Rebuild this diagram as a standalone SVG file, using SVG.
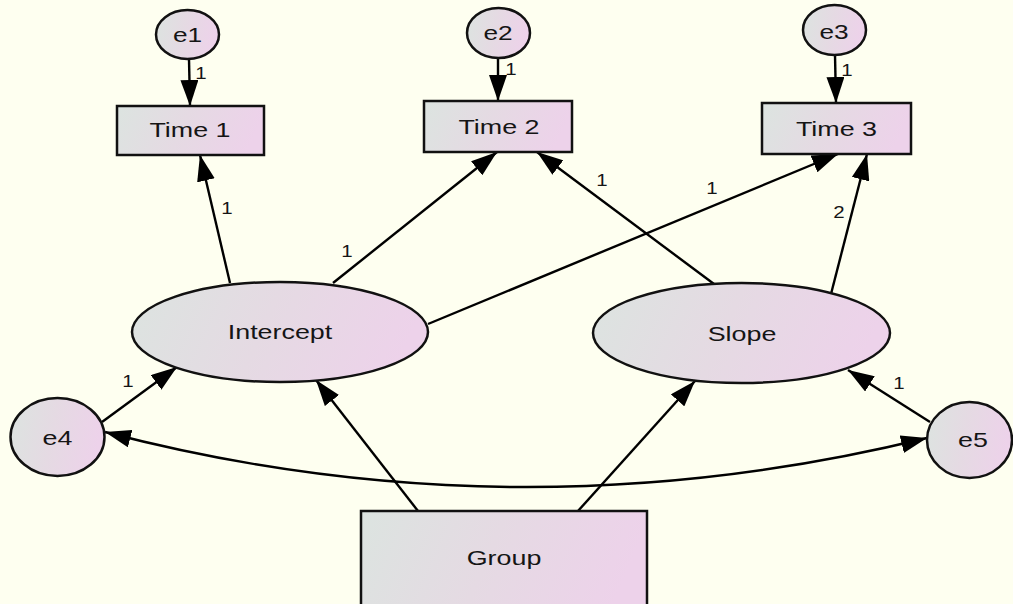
<svg xmlns="http://www.w3.org/2000/svg" width="1013" height="604" viewBox="0 0 1013 604">
  <style>
    .node { stroke: #111; stroke-width: 2.5; fill: url(#fillGrad); }
    .lbl { font-family: "Liberation Sans", Arial, sans-serif; font-size: 21px; fill: #151515; text-anchor: middle; }
    .elbl { font-family: "Liberation Sans", Arial, sans-serif; font-size: 20.5px; fill: #151515; text-anchor: middle; }
    .num { font-family: "Liberation Sans", Arial, sans-serif; font-size: 16px; fill: #151515; text-anchor: middle; }
    .edge { stroke: #000; stroke-width: 2.4; fill: none; marker-end: url(#arrow); }
    .cov { stroke: #000; stroke-width: 2.4; fill: none; marker-start: url(#arrow); marker-end: url(#arrow); }
  </style>
  <defs>
    <linearGradient id="fillGrad" x1="0" y1="0" x2="1" y2="0.15">
      <stop offset="0" stop-color="#dce4e0"/>
      <stop offset="0.5" stop-color="#e5dae3"/>
      <stop offset="1" stop-color="#edd2ea"/>
    </linearGradient>
    <marker id="arrow" viewBox="0 0 26 18" refX="26" refY="9" markerWidth="26" markerHeight="18" markerUnits="userSpaceOnUse" orient="auto-start-reverse">
      <path d="M0,0 L26,9 L0,18 Z" fill="#000"/>
    </marker>
  </defs>

  <rect width="1013" height="604" fill="#fefff0"/>

  <!-- paths, loadings and the e4-e5 covariance -->
  <g id="connectors">
    <line class="edge" x1="189" y1="59" x2="190" y2="106"/>
    <line class="edge" x1="498" y1="58" x2="498" y2="101"/>
    <line class="edge" x1="835" y1="55" x2="836" y2="103"/>
    <line class="edge" x1="230" y1="283" x2="200" y2="155"/>
    <line class="edge" x1="333" y1="283" x2="497" y2="152"/>
    <line class="edge" x1="428" y1="324" x2="838" y2="154"/>
    <line class="edge" x1="714" y1="284" x2="537" y2="152"/>
    <line class="edge" x1="831" y1="294" x2="867" y2="154"/>
    <line class="edge" x1="102" y1="422" x2="177" y2="367"/>
    <line class="edge" x1="930" y1="422" x2="848" y2="370"/>
    <line class="edge" x1="418" y1="511" x2="316" y2="380"/>
    <line class="edge" x1="578" y1="511" x2="695" y2="381"/>
    <path class="cov" d="M105,432 Q514,539 927,438"/>
    <text class="num" transform="matrix(1.28 0 0 1 201 79)">1</text>
    <text class="num" transform="matrix(1.28 0 0 1 511 75)">1</text>
    <text class="num" transform="matrix(1.28 0 0 1 847 76)">1</text>
    <text class="num" transform="matrix(1.28 0 0 1 227 214)">1</text>
    <text class="num" transform="matrix(1.28 0 0 1 347 257)">1</text>
    <text class="num" transform="matrix(1.28 0 0 1 602 186)">1</text>
    <text class="num" transform="matrix(1.28 0 0 1 712 194)">1</text>
    <text class="num" transform="matrix(1.28 0 0 1 839 218)">2</text>
    <text class="num" transform="matrix(1.28 0 0 1 128 387)">1</text>
    <text class="num" transform="matrix(1.28 0 0 1 899 389)">1</text>
  </g>

  <g id="e1">
    <ellipse class="node" cx="187.5" cy="34.5" rx="31.5" ry="24.5"/>
    <text class="elbl" transform="matrix(1.28 0 0 1 187.5 42)">e1</text>
  </g>
  <g id="e2">
    <ellipse class="node" cx="498.5" cy="33" rx="31.5" ry="25"/>
    <text class="elbl" transform="matrix(1.28 0 0 1 498 40)">e2</text>
  </g>
  <g id="e3">
    <ellipse class="node" cx="834.5" cy="30" rx="31.5" ry="25"/>
    <text class="elbl" transform="matrix(1.28 0 0 1 834 38.5)">e3</text>
  </g>
  <g id="time1">
    <rect class="node" x="117" y="106" width="147" height="49"/>
    <text class="lbl" transform="matrix(1.28 0 0 1 190 137)">Time 1</text>
  </g>
  <g id="time2">
    <rect class="node" x="424" y="101" width="148" height="51"/>
    <text class="lbl" transform="matrix(1.28 0 0 1 499 134)">Time 2</text>
  </g>
  <g id="time3">
    <rect class="node" x="762" y="103" width="149" height="51"/>
    <text class="lbl" transform="matrix(1.28 0 0 1 836.5 136)">Time 3</text>
  </g>
  <g id="intercept">
    <ellipse class="node" cx="280" cy="332" rx="148" ry="50"/>
    <text class="lbl" transform="matrix(1.28 0 0 1 280 339)">Intercept</text>
  </g>
  <g id="slope">
    <ellipse class="node" cx="741.5" cy="333" rx="148.5" ry="50"/>
    <text class="lbl" transform="matrix(1.28 0 0 1 742 341)">Slope</text>
  </g>
  <g id="e4">
    <ellipse class="node" cx="57.5" cy="437" rx="47" ry="39"/>
    <text class="lbl" transform="matrix(1.28 0 0 1 57.5 445)">e4</text>
  </g>
  <g id="e5">
    <ellipse class="node" cx="969.5" cy="440" rx="42.5" ry="38"/>
    <text class="lbl" transform="matrix(1.28 0 0 1 973 447)">e5</text>
  </g>
  <g id="group">
    <rect class="node" x="361" y="511" width="286" height="100"/>
    <text class="lbl" transform="matrix(1.28 0 0 1 504 565)">Group</text>
  </g>
</svg>
